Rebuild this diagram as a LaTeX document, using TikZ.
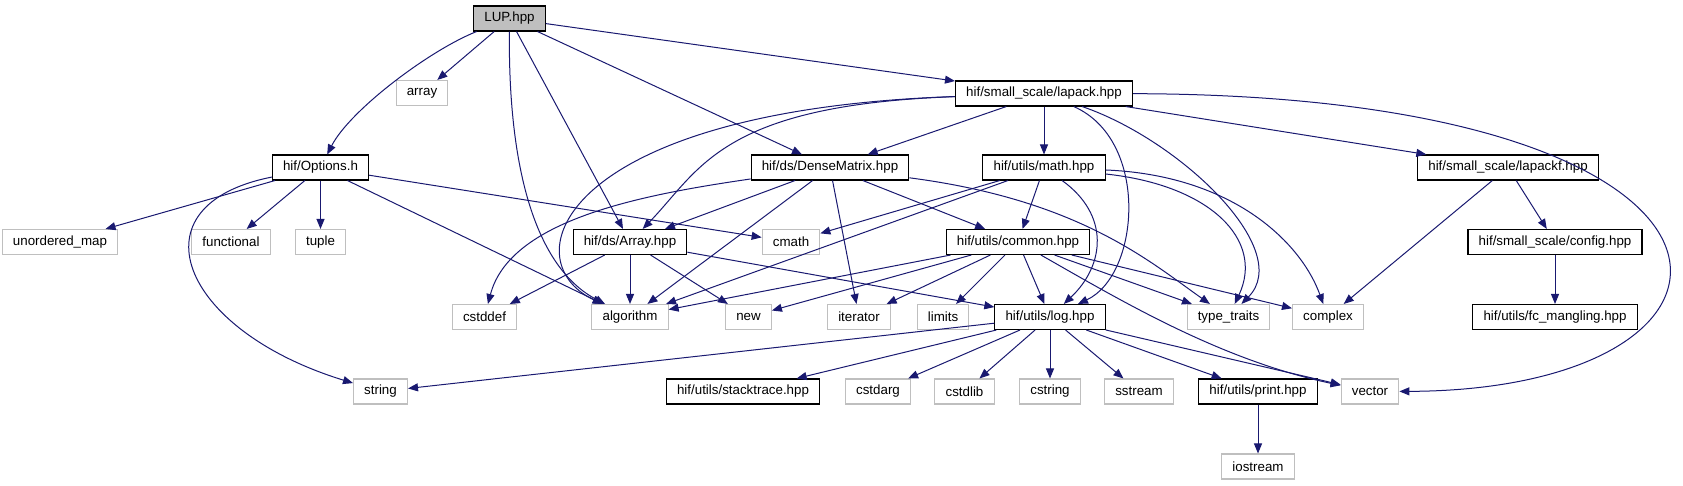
\documentclass[tikz,border=0pt]{standalone}
\usepackage{fontspec}
\setmainfont{Liberation Sans}
\usepackage{tikz}
\usetikzlibrary{arrows.meta}
\definecolor{edgeblue}{RGB}{25,25,112}
\definecolor{sysgray}{RGB}{191,191,191}

\begin{document}
\begin{tikzpicture}[x=0.75pt, y=-0.75pt]
    \tikzstyle{hdr}=[draw=black, line width=0.8pt, fill=white, minimum height=18.75pt, inner xsep=8pt, inner ysep=0pt, font=\fontsize{10}{12}\selectfont]
    \tikzstyle{sys}=[hdr, draw=sysgray]
    \tikzstyle{dep}=[color=edgeblue, line width=0.75pt, -{Triangle[length=7.5pt, width=6pt]}]
    \useasboundingbox (0,0) rectangle (1683,485);

    % headers, row by row
    \node[hdr, fill=sysgray] (lup) at (509.5,18.5) {LUP.hpp};
    \node[sys] (array) at (422,93) {array};
    \node[hdr] (lapack) at (1044,93.5) {hif/small\_scale/lapack.hpp};
    \node[hdr] (options) at (320.5,167.5) {hif/Options.h};
    \node[hdr] (dense) at (830,167.5) {hif/ds/DenseMatrix.hpp};
    \node[hdr] (math) at (1044,167.5) {hif/utils/math.hpp};
    \node[hdr] (lapackf) at (1508,167.5) {hif/small\_scale/lapackf.hpp};
    \node[sys] (umap) at (60,242) {unordered\_map};
    \node[sys] (functional) at (231,242) {functional};
    \node[sys] (tuple) at (320.5,242) {tuple};
    \node[hdr] (arr) at (630,242) {hif/ds/Array.hpp};
    \node[sys] (cmath) at (791,242) {cmath};
    \node[hdr] (common) at (1018,242) {hif/utils/common.hpp};
    \node[hdr] (config) at (1555,242) {hif/small\_scale/config.hpp};
    \node[sys] (cstddef) at (484.5,317) {cstddef};
    \node[sys] (algorithm) at (630,317) {algorithm};
    \node[sys] (new) at (748.5,317) {new};
    \node[sys] (iterator) at (859,317) {iterator};
    \node[sys] (limits) at (943,317) {limits};
    \node[hdr] (log) at (1050,317) {hif/utils/log.hpp};
    \node[sys] (ttraits) at (1228.5,317) {type\_traits};
    \node[sys] (complex) at (1328,317) {complex};
    \node[hdr] (fcmangling) at (1555,317) {hif/utils/fc\_mangling.hpp};
    \node[sys] (string) at (380.5,391.5) {string};
    \node[hdr] (stacktrace) at (743,391.5) {hif/utils/stacktrace.hpp};
    \node[sys] (cstdarg) at (878,391.5) {cstdarg};
    \node[sys] (cstdlib) at (964.5,391.5) {cstdlib};
    \node[sys] (cstring) at (1050,391.5) {cstring};
    \node[sys] (sstream) at (1139,391.5) {sstream};
    \node[hdr] (print) at (1258,391.5) {hif/utils/print.hpp};
    \node[sys] (vector) at (1370,391.5) {vector};
    \node[sys] (iostream) at (1258,466.5) {iostream};

    % LUP.hpp
    \draw[dep] (lup) .. controls (430,50) and (350,110) .. (options);
    \draw[dep] (lup) -- (array);
    \draw[dep] (lup) .. controls (508,180) and (540,270) .. (algorithm);
    \draw[dep] (lup) -- (arr);
    \draw[dep] (lup) -- (dense);
    \draw[dep] (lup) -- (lapack);

    % hif/Options.h
    \draw[dep] (options) -- (umap);
    \draw[dep] (options) -- (functional);
    \draw[dep] (options) -- (tuple);
    \draw[dep] (options) .. controls (130,205) and (180,330) .. (string);
    \draw[dep] (options) -- (algorithm);
    \draw[dep] (options) -- (cmath);

    % lapack.hpp
    \draw[dep] (lapack) .. controls (560,110) and (510,260) .. (algorithm);
    \draw[dep] (lapack) .. controls (720,105) and (700,170) .. (arr);
    \draw[dep] (lapack) -- (dense);
    \draw[dep] (lapack) -- (math);
    \draw[dep] (lapack) .. controls (1150,140) and (1140,275) .. (log);
    \draw[dep] (lapack) .. controls (1180,140) and (1295,250) .. (ttraits);
    \draw[dep] (lapack) -- (lapackf);
    \draw[dep] (lapack) .. controls (1800,95) and (1790,390) .. (vector);

    % DenseMatrix.hpp
    \draw[dep] (dense) .. controls (640,195) and (510,220) .. (cstddef);
    \draw[dep] (dense) -- (arr);
    \draw[dep] (dense) -- (algorithm);
    \draw[dep] (dense) -- (iterator);
    \draw[dep] (dense) -- (common);
    \draw[dep] (dense) .. controls (1080,200) and (1150,262) .. (ttraits);

    % math.hpp
    \draw[dep] (math) -- (cmath);
    \draw[dep] (math) -- (algorithm);
    \draw[dep] (math) -- (common);
    \draw[dep] (math) .. controls (1110,215) and (1105,265) .. (log);
    \draw[dep] (math) .. controls (1210,185) and (1265,240) .. (ttraits);
    \draw[dep] (math) .. controls (1230,175) and (1300,240) .. (complex);

    % Array.hpp
    \draw[dep] (arr) -- (cstddef);
    \draw[dep] (arr) -- (algorithm);
    \draw[dep] (arr) -- (new);
    \draw[dep] (arr) -- (log);

    % common.hpp
    \draw[dep] (common) -- (algorithm);
    \draw[dep] (common) -- (new);
    \draw[dep] (common) -- (iterator);
    \draw[dep] (common) -- (limits);
    \draw[dep] (common) -- (log);
    \draw[dep] (common) -- (ttraits);
    \draw[dep] (common) -- (complex);
    \draw[dep] (common) .. controls (1120,300) and (1220,360) .. (vector);

    % log.hpp
    \draw[dep] (log) -- (string);
    \draw[dep] (log) -- (stacktrace);
    \draw[dep] (log) -- (cstdarg);
    \draw[dep] (log) -- (cstdlib);
    \draw[dep] (log) -- (cstring);
    \draw[dep] (log) -- (sstream);
    \draw[dep] (log) -- (print);
    \draw[dep] (log) -- (vector);

    % the rest
    \draw[dep] (print) -- (iostream);
    \draw[dep] (lapackf) -- (config);
    \draw[dep] (lapackf) -- (complex);
    \draw[dep] (config) -- (fcmangling);
\end{tikzpicture}
\end{document}
